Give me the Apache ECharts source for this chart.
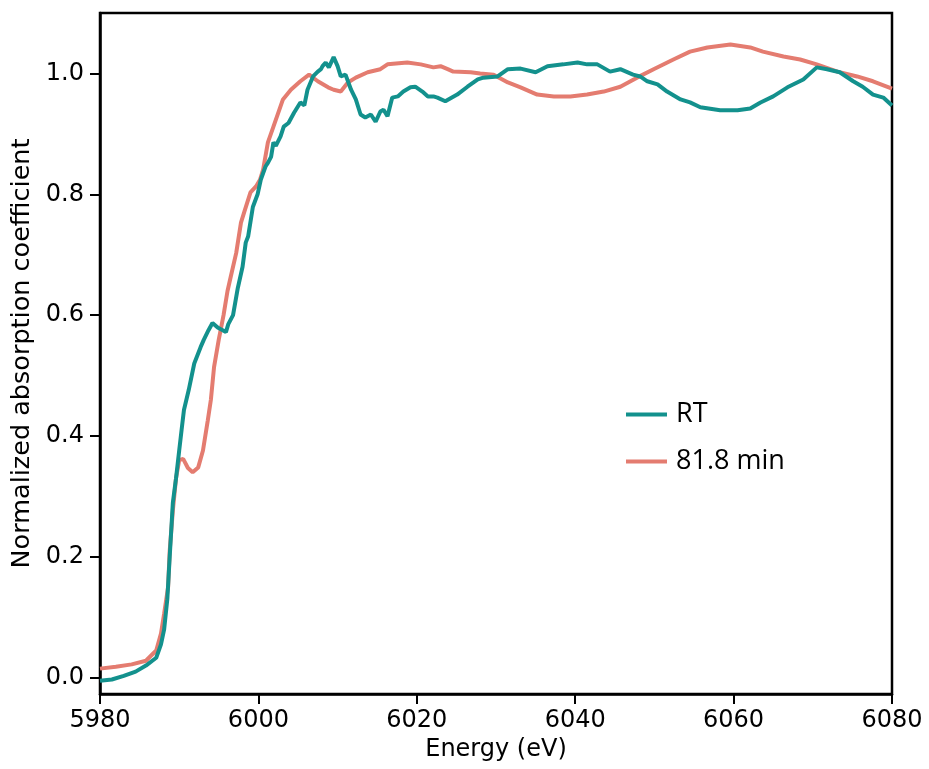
<!DOCTYPE html>
<html>
<head>
<meta charset="utf-8">
<script src="https://cdn.jsdelivr.net/npm/echarts@6/dist/echarts.min.js"></script>
<style>
html,body{margin:0;padding:0;background:#fff;}
#c{width:929px;height:769px;}
</style>
</head>
<body>
<div id="c"></div>
<script>
// ---- data ----
const seriesNames = ['RT', '81.8 min'];
const xTicks = [5980, 6000, 6020, 6040, 6060, 6080];
const yTicks = [0.0, 0.2, 0.4, 0.6, 0.8, 1.0];

const rtEnergy = [5980.0,5981.5,5983.0,5984.5,5985.8,5987.1,5987.7,5988.1,5988.5,5988.8,5989.2,5989.6,5990.0,5990.3,5990.6,5991.2,5991.9,5992.7,5993.1,5993.7,5994.2,5994.9,5995.5,5995.9,5996.2,5996.8,5997.4,5998.0,5998.4,5998.7,5999.3,5999.9,6000.3,6000.9,6001.2,6001.6,6001.9,6002.2,6002.8,6003.2,6003.8,6004.5,6005.3,6005.8,6006.2,6006.9,6007.5,6007.9,6008.1,6008.5,6008.9,6009.5,6010.0,6010.4,6010.6,6011.0,6011.7,6012.3,6012.9,6013.5,6014.2,6014.8,6015.4,6015.8,6016.3,6016.9,6017.6,6018.3,6019.2,6019.8,6020.7,6021.4,6022.1,6022.6,6023.6,6025.1,6026.4,6027.7,6028.4,6030.2,6031.5,6033.1,6035.0,6036.5,6038.5,6040.3,6041.5,6042.8,6044.4,6045.7,6047.3,6048.2,6049.1,6050.4,6051.6,6053.3,6054.5,6055.8,6058.3,6060.5,6062.1,6063.4,6065.0,6066.8,6068.8,6070.5,6071.8,6073.4,6075.1,6076.3,6077.6,6078.9,6080.0];
const rtMu = [-0.005,-0.003,0.003,0.010,0.020,0.033,0.055,0.080,0.130,0.200,0.290,0.330,0.376,0.410,0.443,0.476,0.520,0.547,0.559,0.575,0.587,0.579,0.575,0.572,0.585,0.600,0.645,0.680,0.720,0.730,0.779,0.800,0.824,0.846,0.852,0.862,0.886,0.880,0.896,0.912,0.918,0.935,0.952,0.947,0.973,0.995,1.003,1.007,1.012,1.018,1.010,1.027,1.012,0.995,0.995,0.998,0.973,0.957,0.932,0.927,0.932,0.920,0.937,0.940,0.929,0.960,0.962,0.970,0.977,0.978,0.970,0.962,0.962,0.960,0.954,0.965,0.978,0.990,0.993,0.995,1.007,1.008,1.002,1.012,1.015,1.018,1.015,1.015,1.003,1.007,0.998,0.995,0.987,0.982,0.970,0.957,0.952,0.944,0.939,0.939,0.942,0.952,0.962,0.977,0.990,1.010,1.007,1.002,0.987,0.978,0.965,0.960,0.947];

const minEnergy = [5980.0,5982.0,5984.0,5985.8,5987.1,5987.7,5988.1,5988.6,5988.8,5989.2,5989.6,5990.0,5990.5,5991.1,5991.7,5992.4,5993.0,5993.6,5994.0,5994.4,5995.0,5995.6,5996.1,5996.5,5997.2,5997.8,5998.2,5999.0,5999.7,6000.2,6000.6,6001.2,6001.9,6003.1,6004.1,6005.3,6006.4,6007.5,6008.8,6009.5,6010.4,6011.3,6012.3,6013.8,6015.4,6016.3,6018.8,6020.5,6022.1,6023.0,6023.9,6024.6,6026.8,6028.0,6029.7,6031.5,6033.1,6035.2,6037.3,6039.4,6041.5,6043.6,6045.7,6047.8,6049.9,6052.4,6054.5,6056.7,6059.6,6062.1,6063.7,6066.3,6068.4,6070.5,6073.1,6075.6,6077.6,6080.0];
const minMu = [0.015,0.018,0.022,0.028,0.045,0.073,0.106,0.150,0.210,0.277,0.330,0.360,0.362,0.347,0.340,0.348,0.376,0.425,0.460,0.514,0.560,0.600,0.640,0.663,0.703,0.753,0.770,0.803,0.813,0.824,0.841,0.886,0.912,0.957,0.973,0.987,0.998,0.987,0.977,0.973,0.970,0.985,0.993,1.002,1.007,1.015,1.018,1.015,1.010,1.012,1.007,1.003,1.002,1.000,0.998,0.985,0.977,0.965,0.962,0.962,0.965,0.970,0.978,0.993,1.007,1.023,1.036,1.043,1.048,1.043,1.036,1.028,1.023,1.015,1.003,0.995,0.987,0.975];

const colors = ['#13918d', '#e47c70'];

const pair = (xs, ys) => xs.map((x, i) => [x, ys[i]]);

const chart = echarts.init(document.getElementById('c'), null, {renderer: 'canvas'});
const font = '"DejaVu Sans", sans-serif';
const legendFont = '"Open Sans", sans-serif';

const option = {
  animation: false,
  backgroundColor: '#ffffff',
  grid: {left: 100, right: 37, top: 13, bottom: 75, show: true, borderColor: '#000', borderWidth: 2.5, backgroundColor: 'transparent'},
  xAxis: {
    type: 'value', min: xTicks[0], max: xTicks[xTicks.length - 1], interval: 20,
    name: 'Energy (eV)', nameLocation: 'middle', nameGap: 42,
    nameTextStyle: {fontFamily: font, fontSize: 24, color: '#000'},
    axisLine: {show: true, onZero: false, lineStyle: {color: '#000', width: 2.5}},
    axisTick: {show: true, inside: false, length: 10, lineStyle: {color: '#000', width: 2}},
    axisLabel: {fontFamily: font, fontSize: 24, color: '#000', margin: 15, formatter: v => String(v)},
    splitLine: {show: false}
  },
  yAxis: {
    type: 'value', min: -0.027, max: 1.1,
    name: 'Normalized absorption coefficient', nameLocation: 'middle', nameGap: 63,
    nameTextStyle: {fontFamily: font, fontSize: 25.5, color: '#000'},
    axisLine: {show: true, onZero: false, lineStyle: {color: '#000', width: 2.5}},
    axisTick: {show: true, inside: false, length: 10, lineStyle: {color: '#000', width: 2}, customValues: yTicks},
    axisLabel: {fontFamily: font, fontSize: 24, color: '#000', margin: 16, customValues: yTicks,
      formatter: v => Number(v).toFixed(1)},
    splitLine: {show: false}
  },
  legend: [
    {data: [seriesNames[0]], left: 621, top: 396, orient: 'vertical', icon: 'rect', itemWidth: 41, itemHeight: 4,
     textStyle: {fontFamily: legendFont, fontSize: 27, color: '#000', padding: [0, 0, 0, 4]}},
    {data: [seriesNames[1]], left: 621, top: 443, orient: 'vertical', icon: 'rect', itemWidth: 41, itemHeight: 4,
     textStyle: {fontFamily: legendFont, fontSize: 27, color: '#000', padding: [0, 0, 0, 4]}}
  ],
  series: [
    {name: seriesNames[1], type: 'line', data: pair(minEnergy, minMu), showSymbol: false, symbol: 'none',
     lineStyle: {color: colors[1], width: 4}, itemStyle: {color: colors[1]}, z: 2},
    {name: seriesNames[0], type: 'line', data: pair(rtEnergy, rtMu), showSymbol: false, symbol: 'none',
     lineStyle: {color: colors[0], width: 4}, itemStyle: {color: colors[0]}, z: 3}
  ]
};
chart.setOption(option);
</script>
</body>
</html>
